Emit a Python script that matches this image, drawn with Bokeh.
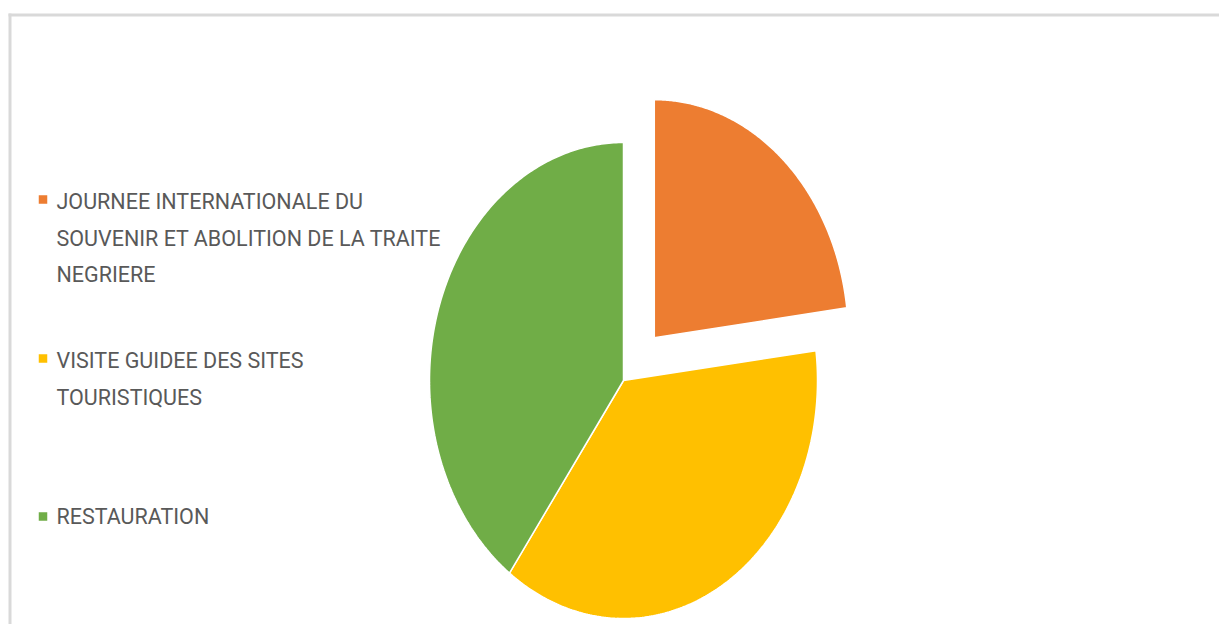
import numpy as np
from bokeh.plotting import figure
from bokeh.models import Range1d, BoxAnnotation
from bokeh.core.properties import value
from bokeh.embed import file_html
from bokeh.resources import INLINE

# ---- data ----
categories = [
    "JOURNEE INTERNATIONALE DU SOUVENIR ET ABOLITION DE LA TRAITE NEGRIERE",
    "VISITE GUIDEE DES SITES TOURISTIQUES",
    "RESTAURATION",
]
legend_lines = [
    ["JOURNEE INTERNATIONALE DU", "SOUVENIR ET ABOLITION DE LA TRAITE", "NEGRIERE"],
    ["VISITE GUIDEE DES SITES", "TOURISTIQUES"],
    ["RESTAURATION"],
]
shares = [23, 37, 40]
colors = ["#ED7D31", "#FFC000", "#70AD47"]
explode = [0.24, 0.0, 0.0]

# ---- layout (pixel-like data space) ----
W, H = 1219, 624
cx, cy, rx, ry = 623, 380, 194, 238
legend_mid = [201, 360, 516]
sq_mid = [199, 358, 516]
line_h = 36.5
text_x = 56
sq_x = 42.5

p = figure(width=W, height=H, output_backend="svg", toolbar_location=None,
           x_range=Range1d(0, W), y_range=Range1d(H, 0),
           min_border=0, outline_line_color=None)
p.axis.visible = False
p.grid.visible = False

# chart border
p.add_layout(BoxAnnotation(left=8, right=11, top=13, bottom=H + 5,
                           fill_color="#D9D9D9", fill_alpha=1, line_color=None))
p.add_layout(BoxAnnotation(left=8, right=W + 5, top=13, bottom=16,
                           fill_color="#D9D9D9", fill_alpha=1, line_color=None))

vals = np.array(shares, dtype=float)
fr = vals / vals.sum()
cum = np.concatenate([[0], np.cumsum(fr)])
xs, ys = [], []
for i in range(len(vals)):
    t = np.linspace(cum[i], cum[i + 1], 200)
    th = np.pi / 2 - 2 * np.pi * t
    tb = np.pi / 2 - 2 * np.pi * (cum[i] + cum[i + 1]) / 2
    ox = explode[i] * rx * np.cos(tb)
    oy = -explode[i] * ry * np.sin(tb)
    px = np.concatenate([[cx + ox], cx + ox + rx * np.cos(th)])
    py = np.concatenate([[cy + oy], cy + oy - ry * np.sin(th)])
    xs.append(list(px))
    ys.append(list(py))
p.patches(xs, ys, fill_color=colors, line_color="white", line_width=1.5)

# legend
font = value("Roboto")
for i, lines in enumerate(legend_lines):
    p.rect(x=[sq_x], y=[sq_mid[i]], width=8.5, height=8.5, fill_color=colors[i], line_color=None)
    p.text(x=[text_x] * len(lines), y=[legend_mid[i] + k * line_h for k in range(len(lines))],
           text=lines, text_font=font, text_font_size="21.5px", text_color="#595959",
           text_baseline="middle", text_align="left")

open("out.html", "w").write(file_html(p, INLINE))
